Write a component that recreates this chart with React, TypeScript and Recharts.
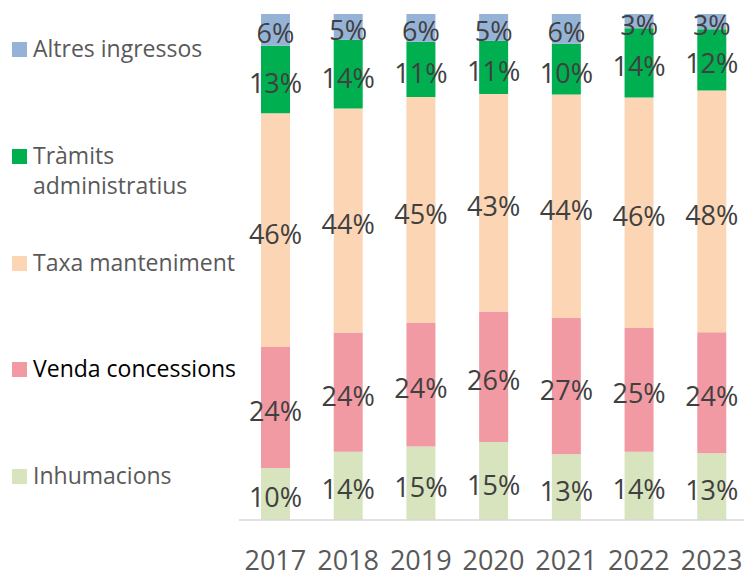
import { BarChart, Bar, XAxis, YAxis, LabelList } from 'recharts';

// anys i quotes (%) llegides del gràfic
const years = ['2017', '2018', '2019', '2020', '2021', '2022', '2023'];
const inhumacions = [10.3, 13.5, 14.5, 15.4, 13.0, 13.5, 13.2];
const vendaConcessions = [23.9, 23.6, 24.4, 25.8, 26.9, 24.5, 23.9];
const taxaManteniment = [46.2, 44.3, 44.6, 43.0, 44.1, 45.6, 47.8];
const tramitsAdministratius = [13.3, 13.6, 10.9, 10.5, 10.0, 13.7, 12.1];
const altresIngressos = [6.3, 5.1, 5.5, 5.3, 5.9, 2.8, 3.0];

// de baix a dalt de la pila
const series = [
  { key: 'inhumacions', name: 'Inhumacions', color: '#d7e4bd', values: inhumacions, legendTop: 461.5, textColor: '#595959' },
  { key: 'venda', name: 'Venda concessions', color: '#f29aa3', values: vendaConcessions, legendTop: 354.5, textColor: '#000000' },
  { key: 'taxa', name: 'Taxa manteniment', color: '#fcd5b5', values: taxaManteniment, legendTop: 248.5, textColor: '#595959' },
  { key: 'tramits', name: 'Tràmits administratius', color: '#00b050', values: tramitsAdministratius, legendTop: 141.5, textColor: '#595959' },
  { key: 'altres', name: 'Altres ingressos', color: '#95b3d7', values: altresIngressos, legendTop: 34.5, textColor: '#595959' },
];

const data = years.map((year, i) => {
  const row: Record<string, any> = { year };
  series.forEach((s) => {
    row[s.key] = s.values[i];
  });
  return row;
});

const FONT = '"Open Sans", "Noto Sans", sans-serif';

// etiqueta centrada al segment, una mica cap avall com a l'original
const renderPct = (props: any) => {
  const { x, y, width, height, value } = props;
  return (
    <text
      x={Number(x) + Number(width) / 2}
      y={Number(y) + Number(height) / 2 + 3}
      textAnchor="middle"
      dominantBaseline="central"
      fontSize={27}
      fill="#404040"
      fontFamily={FONT}
    >
      {`${Math.round(Number(value))}%`}
    </text>
  );
};

export default function App() {
  return (
    <div style={{ position: 'absolute', left: 0, top: 0, width: 744, height: 576, overflow: 'hidden', background: '#fff', fontFamily: FONT }}>
      {/* llegenda */}
      {series.map((s) => (
        <div
          key={s.key}
          style={{ position: 'absolute', left: 12, top: s.legendTop, display: 'flex', alignItems: 'flex-start' }}
        >
          <div style={{ width: 15, height: 15, marginTop: 7.5, background: s.color, flexShrink: 0 }} />
          <div style={{ marginLeft: 6, width: 215, fontSize: 23, lineHeight: '30px', marginTop: -2, color: s.textColor }}>{s.name}</div>
        </div>
      ))}
      <div style={{ position: 'absolute', left: 0, top: 0 }}>
        <BarChart
          width={760}
          height={576}
          data={data}
          stackOffset="expand"
          margin={{ top: 14, right: 12, bottom: 0, left: 239 }}
          style={{ fontFamily: FONT }}
        >
          <XAxis
            dataKey="year"
            height={56}
            tickLine={false}
            axisLine={{ stroke: '#d9d9d9', strokeWidth: 1.5 }}
            tick={{ fontSize: 27, fill: '#595959' }}
            tickMargin={25}
            interval={0}
          />
          <YAxis hide domain={[0, 1]} />
          {series.map((s) => (
            <Bar key={s.key} dataKey={s.key} name={s.name} stackId="a" fill={s.color} barSize={29} isAnimationActive={false}>
              <LabelList dataKey={s.key} content={renderPct} />
            </Bar>
          ))}
        </BarChart>
      </div>
    </div>
  );
}
